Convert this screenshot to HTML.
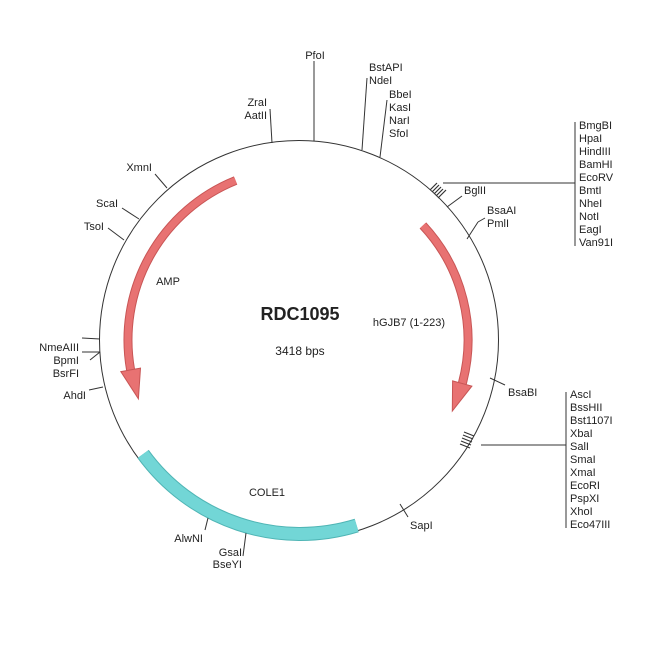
<!DOCTYPE html>
<html><head><meta charset="utf-8"><style>
body{margin:0;background:#fff}
svg{display:block}
text{font-family:"Liberation Sans",sans-serif;font-size:11px;fill:#222}
</style></head><body>
<svg width="650" height="650" viewBox="0 0 650 650">
<circle cx="299" cy="340" r="199.5" fill="none" stroke="#333" stroke-width="1"/>
<!-- AMP arrow -->
<path d="M235.6,180.5 A172,172 0 0 0 130.6,369.9" fill="none" stroke="#c85555" stroke-width="9"/>
<path d="M235.6,180.5 A172,172 0 0 0 130.6,369.9" fill="none" stroke="#e87272" stroke-width="7"/>
<polygon points="140.5,368.1 120.8,371.6 138.4,398.8" fill="#e87272" stroke="#c85555" stroke-width="1"/>
<!-- hGJB7 arrow -->
<path d="M422.9,225.4 A168,168 0 0 1 462.3,383.5" fill="none" stroke="#c85555" stroke-width="9"/>
<path d="M422.9,225.4 A168,168 0 0 1 462.3,383.5" fill="none" stroke="#e87272" stroke-width="7"/>
<polygon points="452.6,380.9 471.9,386.1 452.3,411" fill="#e87272" stroke="#c85555" stroke-width="1"/>
<!-- COLE1 -->
<path d="M356.7,525.5 A194,194 0 0 1 143.1,454" fill="none" stroke="#4fb5b5" stroke-width="14"/>
<path d="M356.7,525.5 A194,194 0 0 1 143.1,454" fill="none" stroke="#72d6d6" stroke-width="12"/>
<g stroke="#333" stroke-width="1" fill="none">
<line x1="314" y1="141" x2="314" y2="61"/>
<line x1="272" y1="143" x2="270" y2="109"/>
<line x1="362" y1="150" x2="367" y2="78"/>
<line x1="380" y1="157" x2="387" y2="100"/>
<line x1="443" y1="183" x2="568" y2="183"/>
<line x1="575" y1="122" x2="575" y2="246"/>
<line x1="568" y1="183" x2="575" y2="183"/>
<line x1="447" y1="207" x2="462" y2="196"/>
<line x1="467" y1="239" x2="478" y2="222"/>
<line x1="478" y1="222" x2="485" y2="218"/>
<line x1="490" y1="378" x2="505" y2="385"/>
<line x1="481" y1="445" x2="566" y2="445"/>
<line x1="566" y1="392" x2="566" y2="528"/>
<line x1="400" y1="504" x2="408" y2="517"/>
<line x1="246" y1="533" x2="243" y2="556"/>
<line x1="208" y1="518" x2="205" y2="530"/>
<line x1="103" y1="387" x2="89" y2="390"/>
<line x1="100" y1="339" x2="82" y2="338"/>
<line x1="100" y1="352" x2="82" y2="352"/>
<line x1="100" y1="352" x2="90" y2="360"/>
<line x1="124" y1="240" x2="108" y2="228"/>
<line x1="139" y1="219" x2="122" y2="208"/>
<line x1="167" y1="188" x2="155" y2="174"/>
</g>
<!-- hatched boxes -->
<g stroke="#333" stroke-width="1.2">
<line x1="430" y1="190" x2="437" y2="183"/><line x1="432" y1="192" x2="439" y2="185"/>
<line x1="434" y1="194" x2="441" y2="187"/><line x1="436" y1="196" x2="443" y2="189"/>
<line x1="438" y1="198" x2="446" y2="190"/>
<line x1="464" y1="432" x2="474" y2="436"/><line x1="463" y1="435" x2="473" y2="439"/>
<line x1="462" y1="438" x2="472" y2="442"/><line x1="461" y1="441" x2="471" y2="445"/>
<line x1="460" y1="444" x2="470" y2="448"/>
</g>
<text x="300" y="320" text-anchor="middle" style="font-size:18px;font-weight:bold">RDC1095</text>
<text x="300" y="355" text-anchor="middle" style="font-size:12px">3418 bps</text>
<text x="168" y="285" text-anchor="middle">AMP</text>
<text x="409" y="326" text-anchor="middle">hGJB7 (1-223)</text>
<text x="267" y="496" text-anchor="middle">COLE1</text>
<text x="315" y="59" text-anchor="middle">PfoI</text>
<text x="267" y="106" text-anchor="end">ZraI</text>
<text x="267" y="119" text-anchor="end">AatII</text>
<text x="369" y="71">BstAPI</text>
<text x="369" y="84">NdeI</text>
<text x="389" y="98">BbeI</text>
<text x="389" y="111">KasI</text>
<text x="389" y="124">NarI</text>
<text x="389" y="137">SfoI</text>
<text x="464" y="194">BglII</text>
<text x="487" y="214">BsaAI</text>
<text x="487" y="227">PmlI</text>
<g>
<text x="579" y="129">BmgBI</text><text x="579" y="142">HpaI</text><text x="579" y="155">HindIII</text>
<text x="579" y="168">BamHI</text><text x="579" y="181">EcoRV</text><text x="579" y="194">BmtI</text>
<text x="579" y="207">NheI</text><text x="579" y="220">NotI</text><text x="579" y="233">EagI</text>
<text x="579" y="246">Van91I</text>
</g>
<text x="508" y="396">BsaBI</text>
<g>
<text x="570" y="398">AscI</text><text x="570" y="411">BssHII</text><text x="570" y="424">Bst1107I</text>
<text x="570" y="437">XbaI</text><text x="570" y="450">SalI</text><text x="570" y="463">SmaI</text>
<text x="570" y="476">XmaI</text><text x="570" y="489">EcoRI</text><text x="570" y="502">PspXI</text>
<text x="570" y="515">XhoI</text><text x="570" y="528">Eco47III</text>
</g>
<text x="410" y="529">SapI</text>
<text x="242" y="556" text-anchor="end">GsaI</text>
<text x="242" y="568" text-anchor="end">BseYI</text>
<text x="203" y="542" text-anchor="end">AlwNI</text>
<text x="86" y="399" text-anchor="end">AhdI</text>
<text x="79" y="351" text-anchor="end">NmeAIII</text>
<text x="79" y="364" text-anchor="end">BpmI</text>
<text x="79" y="377" text-anchor="end">BsrFI</text>
<text x="104" y="230" text-anchor="end">TsoI</text>
<text x="118" y="207" text-anchor="end">ScaI</text>
<text x="152" y="171" text-anchor="end">XmnI</text>
</svg>
</body></html>
